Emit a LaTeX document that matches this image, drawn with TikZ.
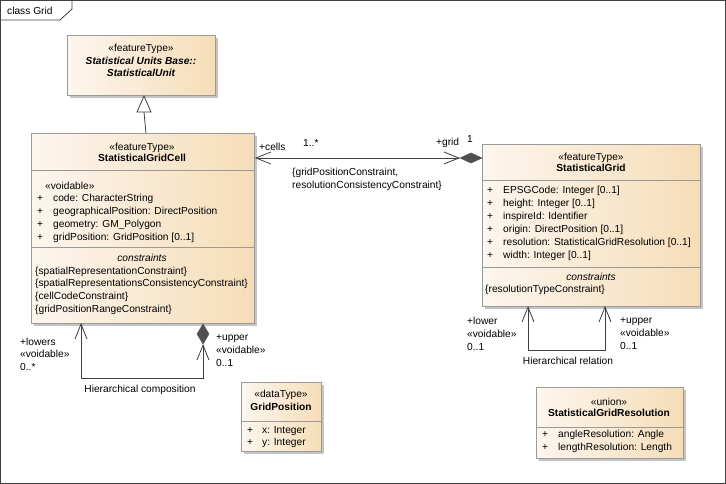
\documentclass[tikz,border=0pt]{standalone}
\usepackage{fontspec}
\setmainfont{Liberation Sans}
\usetikzlibrary{shadows,arrows.meta}
\definecolor{clsL}{HTML}{FCF6EE}
\definecolor{clsR}{HTML}{F6DDB8}
\definecolor{clsborder}{HTML}{9A9A9A}
\definecolor{shadowgray}{HTML}{C4C4C4}
\definecolor{diam}{HTML}{505050}
\definecolor{lnk}{HTML}{404040}
\newcommand{\umlfs}{\fontsize{10.2}{12}\selectfont}
\tikzset{
  cls/.style={draw=clsborder, line width=0.9pt, left color=clsL, right color=clsR,
    inner sep=0pt, anchor=north west,
    drop shadow={shadow xshift=3pt, shadow yshift=-3pt, fill=shadowgray, opacity=1}},
  txt/.style={inner sep=0pt, anchor=west, font=\umlfs, text height=8.5pt, text depth=1.5pt},
  ctxt/.style={txt, anchor=center},
  divider/.style={draw=clsborder, line width=0.9pt},
  link/.style={draw=lnk, line width=0.8pt, >={Straight Barb[length=15pt, width=12pt, line width=0.8pt]}},
  diamondtip/.style={fill=diam, draw=diam, line width=0.5pt}
}
\begin{document}
\begin{tikzpicture}[x=1pt, y=-1pt]
\useasboundingbox (0,0) rectangle (726,484);
% frame
\draw[draw=black!75, line width=0.8pt] (0.5,0.5) rectangle (725.5,483.5);
\draw[draw=black!75, line width=0.8pt] (0.5,20) -- (60,20) -- (72,9) -- (72,0.5);
\node[txt] (title) at (7,11) {class Grid};

% StatisticalUnit
\node[cls, minimum width=148pt, minimum height=60pt] (unit) at (67,35) {};
\node[ctxt] (u1) at (141,48) {«featureType»};
\node[ctxt, font=\umlfs\bfseries\itshape] (u2) at (141,61) {Statistical Units Base::};
\node[ctxt, font=\umlfs\bfseries\itshape] (u3) at (141,73) {StatisticalUnit};

% StatisticalGridCell
\node[cls, minimum width=223pt, minimum height=190pt] (cell) at (31,133) {};
\draw[divider] (31,170) -- (254,170);
\draw[divider] (31,247) -- (254,247);
\node[ctxt] at (142,147) {«featureType»};
\node[ctxt, font=\umlfs\bfseries] at (142,158) {StatisticalGridCell};
\node[txt] at (45,186) {«voidable»};
\foreach \yy/\tt in {198/{code: CharacterString},211/{geographicalPosition: DirectPosition},224/{geometry: GM\_Polygon},237/{gridPosition: GridPosition [0..1]}}{
  \node[txt] at (37,\yy) {+};
  \node[txt] at (53,\yy) {\tt};
}
\node[ctxt, font=\umlfs\itshape] at (142,258) {constraints};
\foreach \yy/\tt in {271/{\{spatialRepresentationConstraint\}},283/{\{spatialRepresentationsConsistencyConstraint\}},296/{\{cellCodeConstraint\}},309/{\{gridPositionRangeConstraint\}}}{
  \node[txt] at (35,\yy) {\tt};
}

% StatisticalGrid
\node[cls, minimum width=218pt, minimum height=162pt] (grid) at (482,144) {};
\draw[divider] (482,180) -- (700,180);
\draw[divider] (482,267) -- (700,267);
\node[ctxt] at (591,157) {«featureType»};
\node[ctxt, font=\umlfs\bfseries] at (591,168) {StatisticalGrid};
\foreach \yy/\tt in {190/{EPSGCode: Integer [0..1]},203/{height: Integer [0..1]},216/{inspireId: Identifier},229/{origin: DirectPosition [0..1]},242/{resolution: StatisticalGridResolution [0..1]},255/{width: Integer [0..1]}}{
  \node[txt] at (487,\yy) {+};
  \node[txt] at (503,\yy) {\tt};
}
\node[ctxt, font=\umlfs\itshape] at (591,277) {constraints};
\node[txt] at (485,289) {\{resolutionTypeConstraint\}};

% GridPosition
\node[cls, minimum width=80pt, minimum height=69pt] (gpos) at (241,382) {};
\draw[divider] (241,421) -- (321,421);
\node[ctxt] at (281,394) {«dataType»};
\node[ctxt, font=\umlfs\bfseries] at (281,407) {GridPosition};
\node[txt] at (247,430) {+};
\node[txt] at (262,430) {x: Integer};
\node[txt] at (247,442) {+};
\node[txt] at (262,442) {y: Integer};

% StatisticalGridResolution
\node[cls, minimum width=147pt, minimum height=71pt] (res) at (536,387) {};
\draw[divider] (536,427) -- (683,427);
\node[ctxt] at (609,402) {«union»};
\node[ctxt, font=\umlfs\bfseries] at (609,413) {StatisticalGridResolution};
\node[txt] at (542,434) {+};
\node[txt] at (558,434) {angleResolution: Angle};
\node[txt] at (542,447) {+};
\node[txt] at (558,447) {lengthResolution: Length};

% Generalization
\draw[link] ([xshift=3pt]cell.north) -- (144,112);
\draw[link, fill=white] (144,96) -- (151,112) -- (137,112) -- cycle;

% Association cells - grid
\coordinate (dtip) at (460,158);
\draw[link, <->] ([yshift=-25pt]cell.north east) -- (dtip);
\draw[diamondtip] (dtip) -- (471,153) -- (482,158) -- (471,163) -- cycle;
\node[txt] at (259,147) {+cells};
\node[txt] at (303,143) {1..*};
\node[txt] at (436,142) {+grid};
\node[txt] at (467,139) {1};
\node[txt] at (292,172) {\{gridPositionConstraint,};
\node[txt] at (292,185) {resolutionConsistencyConstraint\}};

% Hierarchical composition
\coordinate (hcA) at (81,323);
\coordinate (hcB) at (203,344);
\draw[link, <->] (hcA) -- (81,378) -- (203,378) -- (hcB);
\draw[diamondtip] (203,324) -- (209,334) -- (203,344) -- (197,334) -- cycle;
\node[txt] at (20,342) {+lowers};
\node[txt] at (20,354) {«voidable»};
\node[txt] at (20,367) {0..*};
\node[txt] at (216,337) {+upper};
\node[txt] at (216,350) {«voidable»};
\node[txt] at (216,363) {0..1};
\node[ctxt] at (140,389) {Hierarchical composition};

% Hierarchical relation
\coordinate (hrA) at (528,306);
\coordinate (hrB) at (605,306);
\draw[link, <->] (hrA) -- (528,350) -- (605,350) -- (hrB);
\node[txt] at (467,321) {+lower};
\node[txt] at (467,334) {«voidable»};
\node[txt] at (467,347) {0..1};
\node[txt] at (620,320) {+upper};
\node[txt] at (620,333) {«voidable»};
\node[txt] at (620,346) {0..1};
\node[ctxt] at (568,361) {Hierarchical relation};
\end{tikzpicture}
\end{document}
